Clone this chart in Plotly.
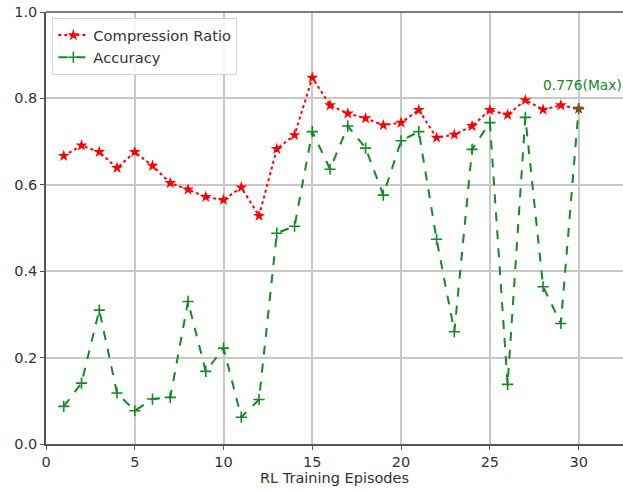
import plotly.graph_objects as go

episodes = list(range(1, 31))
compression_ratio = [0.667, 0.691, 0.676, 0.639, 0.676, 0.644, 0.604, 0.589, 0.572, 0.565,
                     0.594, 0.528, 0.683, 0.715, 0.848, 0.784, 0.765, 0.754, 0.738, 0.744,
                     0.773, 0.709, 0.716, 0.736, 0.773, 0.762, 0.796, 0.774, 0.784, 0.776]
accuracy = [0.087, 0.141, 0.310, 0.118, 0.077, 0.104, 0.108, 0.330, 0.168, 0.222,
            0.062, 0.103, 0.488, 0.504, 0.723, 0.636, 0.736, 0.685, 0.576, 0.702,
            0.723, 0.474, 0.260, 0.682, 0.744, 0.138, 0.756, 0.364, 0.279, 0.776]
x_ticks = [0, 5, 10, 15, 20, 25, 30]
y_ticks = [0.0, 0.2, 0.4, 0.6, 0.8, 1.0]
annot_text = "0.776(Max)"
annot_pos = (27.9, 0.831)

RED = "#ff0000"
GREEN = "#138a22"
font = "DejaVu Sans"

fig = go.Figure()
fig.add_trace(go.Scatter(
    x=episodes, y=compression_ratio, name="Compression Ratio", mode="lines+markers",
    line=dict(color=RED, width=2, dash="dot"),
    marker=dict(symbol="star", size=9, color=RED),
))
fig.add_trace(go.Scatter(
    x=episodes, y=accuracy, name="Accuracy", mode="lines+markers",
    line=dict(color=GREEN, width=2, dash="dash"),
    marker=dict(symbol="cross-thin", size=8, color=GREEN, line=dict(color=GREEN, width=1.6)),
))

fig.add_annotation(x=annot_pos[0], y=annot_pos[1], text=annot_text, showarrow=False,
                   xanchor="left", yanchor="middle", font=dict(color=GREEN, size=13.8, family=font))

# top spine
fig.add_shape(type="line", xref="paper", yref="paper", x0=0, x1=1, y0=1, y1=1,
              line=dict(color="#555555", width=1.5))

fig.update_layout(
    width=623, height=491,
    margin=dict(l=46, r=0, t=12, b=47),
    paper_bgcolor="white", plot_bgcolor="white",
    font=dict(family=font, size=14.5, color="#333333"),
    showlegend=True,
    legend=dict(x=0.011, y=0.986, xanchor="left", yanchor="top",
                bgcolor="rgba(255,255,255,0.85)", bordercolor="#d6d6d6", borderwidth=1,
                font=dict(size=14.7, family=font, color="#333333"),
                tracegroupgap=0),
)
fig.update_xaxes(range=[0, 32.5], tickvals=x_ticks, ticktext=[str(v) for v in x_ticks],
                 automargin=False,
                 showgrid=True, gridcolor="#c8c8c8", gridwidth=1.5,
                 showline=True, linecolor="#555555", linewidth=1.5,
                 ticks="outside", ticklen=4, tickcolor="#555555", zeroline=False,
                 title=dict(text="RL Training Episodes", standoff=2, font=dict(size=14.5, family=font)))
fig.update_yaxes(range=[0, 1.0], tickvals=y_ticks, ticktext=[f"{v:.1f}" for v in y_ticks],
                 automargin=False,
                 showgrid=True, gridcolor="#c8c8c8", gridwidth=1.5,
                 showline=True, linecolor="#555555", linewidth=1.5,
                 ticks="outside", ticklen=4, tickcolor="#555555", zeroline=False)

fig.write_html("out.html", config={"displayModeBar": False},
               post_script="document.body.style.margin='0';document.body.style.overflow='hidden';")
